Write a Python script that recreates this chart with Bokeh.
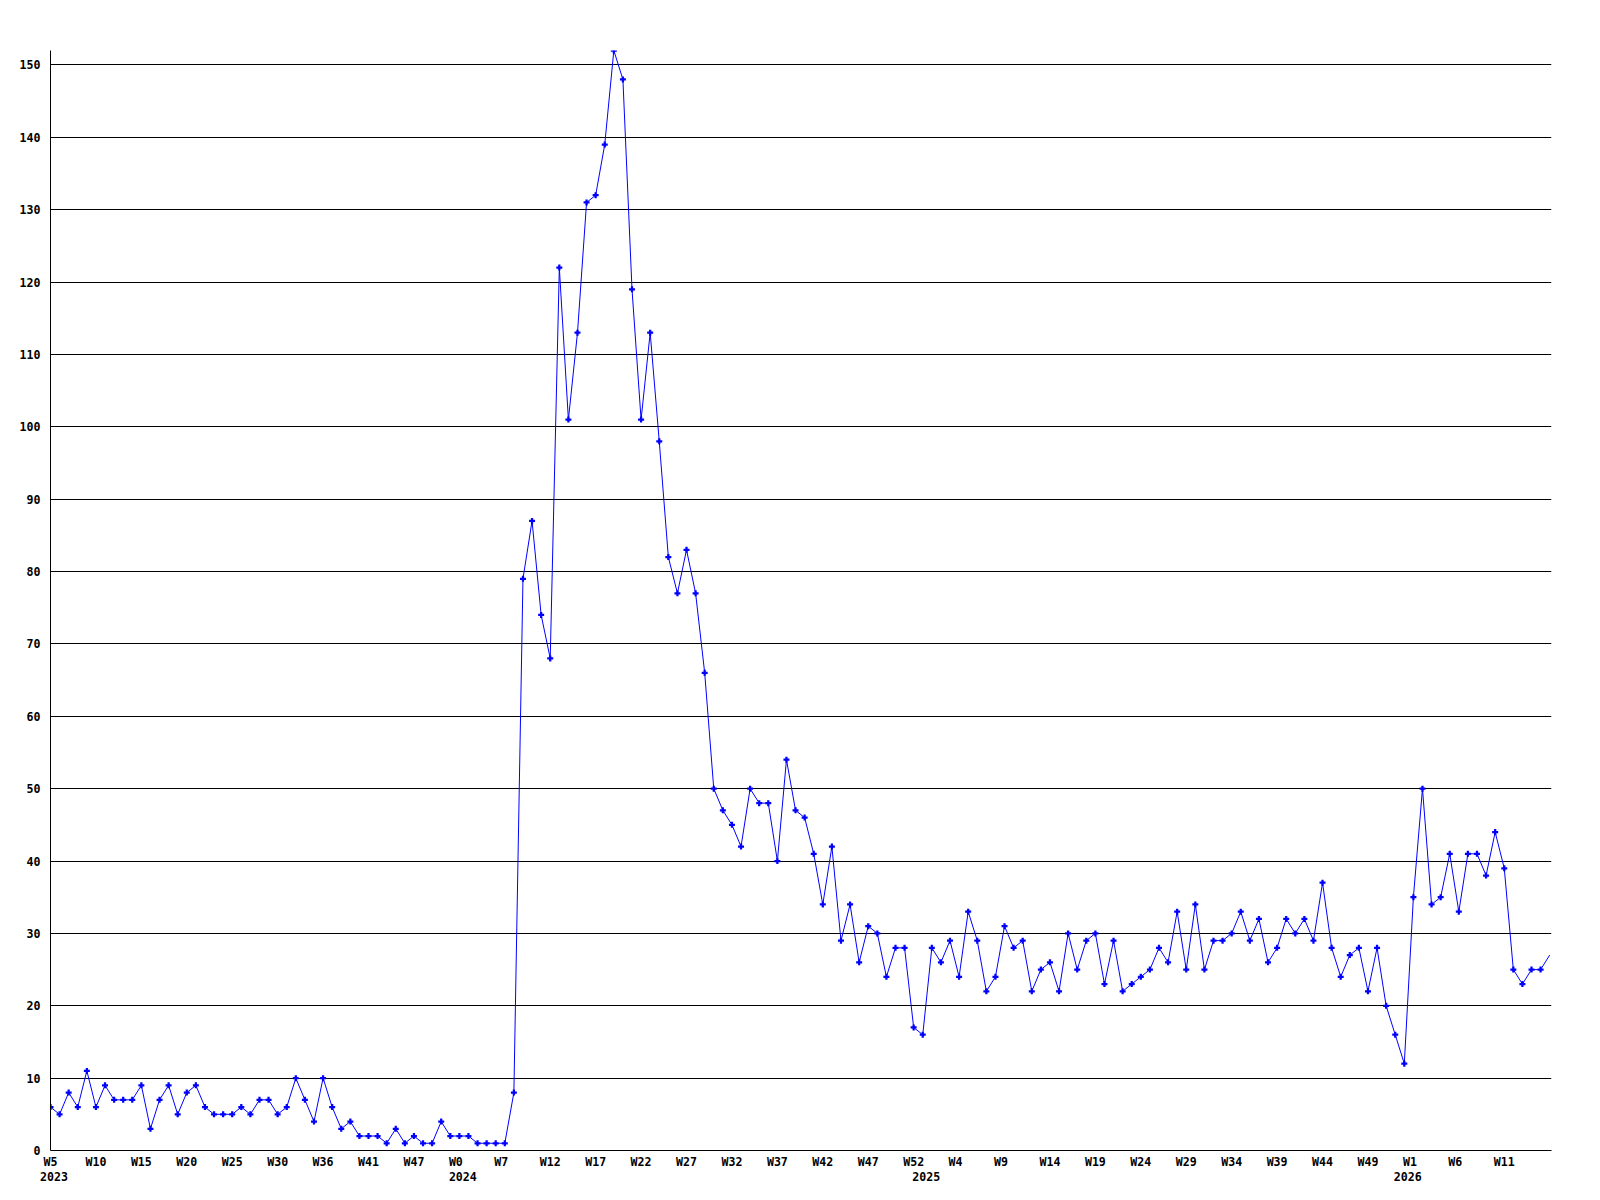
from bokeh.plotting import figure
from bokeh.models import Range1d, FixedTicker, LinearAxis
from bokeh.embed import file_html
from bokeh.resources import INLINE

# weekly values, one per week starting at W5 2023
values = [
    6, 5, 8, 6, 11, 6, 9, 7, 7, 7, 9, 3, 7, 9, 5, 8, 9, 6, 5, 5,
    5, 6, 5, 7, 7, 5, 6, 10, 7, 4, 10, 6, 3, 4, 2, 2, 2, 1, 3, 1,
    2, 1, 1, 4, 2, 2, 2, 1, 1, 1, 1, 8,
    79, 87, 74, 68, 122, 101, 113, 131, 132, 139, 152, 148, 119, 101, 113, 98, 82, 77, 83, 77, 66,
    50, 47, 45, 42, 50, 48, 48, 40, 54, 47, 46, 41, 34, 42, 29, 34, 26, 31, 30, 24, 28, 28, 17, 16,
    28, 26, 29, 24, 33, 29,
    22, 24, 31, 28, 29, 22, 25, 26, 22, 30, 25, 29, 30, 23, 29, 22, 23, 24, 25, 28,
    26, 33, 25, 34, 25, 29, 29, 30, 33, 29, 32, 26, 28, 32, 30, 32, 29, 37, 28, 24,
    27, 28, 22, 28, 20, 16, 12, 35, 50, 34, 35, 41, 33, 41, 41, 38, 44, 39, 25, 23,
    25, 25, 27,
]

# week tick labels, one every 5 weeks
week_labels = ["W5", "W10", "W15", "W20", "W25", "W30", "W36", "W41", "W47", "W0",
               "W7", "W12", "W17", "W22", "W27", "W32", "W37", "W42", "W47", "W52",
               "W4", "W9", "W14", "W19", "W24", "W29", "W34", "W39", "W44", "W49",
               "W1", "W6", "W11"]
label_step = 5

# year labels and the week index where each year starts
year_labels = ["2023", "2024", "2025", "2026"]
year_start_idx = [0, 45, 96, 149]

y_ticks = list(range(0, 151, 10))

FONT = "DejaVu Sans Mono"
FONT_SIZE = "11.6px"
CHAR_W = 7.0          # approx. advance of one label character, px
LABEL_LEAD = 10.5     # labels start this many px left of their tick
FRAME_W, FRAME_H = 1501, 1100
n = len(values)
x_end = (n - 1) + 0.2
px_per_idx = FRAME_W / x_end
x_idx = list(range(n))


def label_pos(idx, lab):
    # centre position that makes a label start LABEL_LEAD px left of idx
    return max(0.0, round(idx + (len(lab) * CHAR_W / 2 - LABEL_LEAD) / px_per_idx, 3))


p = figure(frame_width=FRAME_W, frame_height=FRAME_H,
           x_range=Range1d(0, x_end), y_range=Range1d(0, max(values)),
           output_backend="svg", toolbar_location=None,
           min_border_left=50, min_border_top=50, min_border_right=30,
           min_border_bottom=10)
p.outline_line_color = None
p.background_fill_color = "white"
p.border_fill_color = "white"


def style_labels(ax):
    ax.major_label_text_font = FONT
    ax.major_label_text_font_style = "bold"
    ax.major_label_text_font_size = FONT_SIZE
    ax.major_label_text_color = "black"
    ax.major_tick_out = 0
    ax.major_tick_in = 0
    ax.minor_tick_line_color = None


# y axis
ya = p.yaxis[0]
ya.ticker = FixedTicker(ticks=y_ticks)
ya.axis_line_color = "black"
ya.major_label_standoff = 10
style_labels(ya)

p.xgrid.visible = False
p.ygrid.grid_line_color = "black"
p.ygrid.grid_line_width = 1

# week axis
week_ticks = [label_pos(i * label_step, lab) for i, lab in enumerate(week_labels)]
xa = p.xaxis[0]
xa.ticker = FixedTicker(ticks=week_ticks)
xa.major_label_overrides = {t: lab for t, lab in zip(week_ticks, week_labels)}
xa.axis_line_color = "black"
xa.major_label_standoff = 4
style_labels(xa)

# year axis
year_ticks = [label_pos(i, lab) for i, lab in zip(year_start_idx, year_labels)]
yr = LinearAxis(ticker=FixedTicker(ticks=year_ticks),
                major_label_overrides={t: lab for t, lab in zip(year_ticks, year_labels)})
yr.axis_line_color = None
yr.major_tick_line_color = None
yr.major_label_standoff = 0
style_labels(yr)
p.add_layout(yr, "below")

p.line(x_idx, values, line_color="#0000FF", line_width=1)
# the reference omits the marker of the point that sits on the right frame edge
p.scatter(x_idx[:-1], values[:-1], marker="plus", size=6,
          fill_color="#0000FF", line_color=None)

open("out.html", "w").write(file_html(p, INLINE))
